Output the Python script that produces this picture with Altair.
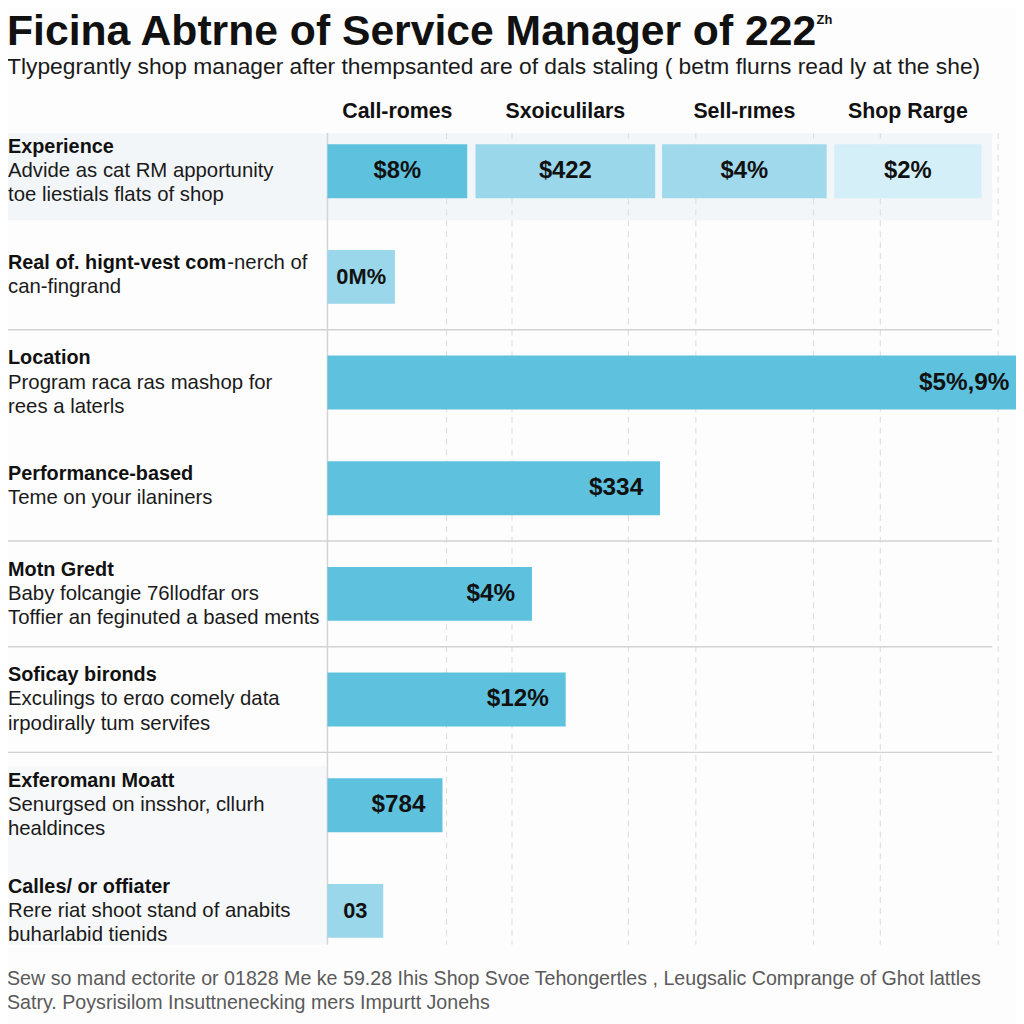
import altair as alt
import pandas as pd

# ---------------- data ----------------
title_text = "Ficina Abtrne of Service Manager of 222"
title_sup = "Zh"
subtitle_text = "Tlypegrantly shop manager after thempsanted are of dals staling ( betm flurns read ly at the she)"
footer_lines = [
    "Sew so mand ectorite or 01828 Me ke 59.28 Ihis Shop Svoe Tehongertles , Leugsalic Comprange of Ghot lattles",
    "Satry. Poysrisilom Insuttnenecking mers Impurtt Jonehs",
]

col_headers = ["Call-romes", "Sxoiculilars", "Sell-rımes", "Shop Rarge"]
seg_start = [0, 21.5, 48.6, 73.6]
seg_end = [20.3, 47.6, 72.5, 95.0]
seg_labels = ["$8%", "$422", "$4%", "$2%"]
seg_colors = ["#5ec2de", "#9ad7ea", "#a0d9eb", "#d4eff7"]

row_titles = [
    "Experience",
    "Real of. hignt-vest com",
    "Location",
    "Performance-based",
    "Motn Gredt",
    "Soficay bironds",
    "Exferomanı Moatt",
    "Calles/ or offiater",
]
row_title_tail = "-nerch of"
row_desc = [
    ["Advide as cat RM apportunity", "toe liestials flats of shop"],
    ["can-fingrand"],
    ["Program raca ras mashop for", "rees a laterls"],
    ["Teme on your ilaniners"],
    ["Baby folcangie 76llodfar ors", "Toffier an feginuted a based ments"],
    ["Exculings to erαo comely data", "irpodirally tum servifes"],
    ["Senurgsed on insshor, cllurh", "healdinces"],
    ["Rere riat shoot stand of anabits", "buharlabid tienids"],
]
row_values = [None, 9.8, 101.5, 48.3, 29.7, 34.6, 16.7, 8.1]
row_labels = ["", "0M%", "$5%,9%", "$334", "$4%", "$12%", "$784", "03"]
row_shade = ["", "light", "dark", "dark", "dark", "dark", "dark", "light"]
shade_names = ["dark", "light"]
shade_colors = ["#5ec2de", "#a6dcec"]

grid_ticks = [17.3, 26.8, 43.7, 53.5, 70.6, 80.3, 97.4]
separator_after = [1, 3, 4, 5]

# ---------------- tables ----------------
segs = pd.DataFrame({"header": col_headers, "start": seg_start, "end": seg_end,
                     "label": seg_labels, "row": 0})
rows = pd.DataFrame({"row": list(range(len(row_titles))), "value": row_values,
                     "label": row_labels, "shade": row_shade})
bars = rows.dropna(subset=["value"])
line_recs = []
for r, (t, d) in enumerate(zip(row_titles, row_desc)):
    lines = [t] + d
    for i, s in enumerate(lines):
        line_recs.append({"row": r, "li": i, "n": len(lines), "text": s})
lines_df = pd.DataFrame(line_recs)
grid_df = pd.DataFrame({"t": grid_ticks})
sep_df = pd.DataFrame({"row": separator_after})
one = pd.DataFrame({"k": [0]})

FONT = "Liberation Sans"
STEP = 106.5
x_scale = alt.Scale(domain=[0, 100], range=[322, 1016], nice=False, zero=False)
y_scale = alt.Scale(domain=[-0.5, 7.5], range=[107.25, 959.25], nice=False, zero=False)
HALF = "0.255"

layers = []

# background band for the first row and lower-left label panel
layers.append(alt.Chart(one).mark_rect(color="#f3f6f8").encode(
    x=alt.value(0), x2=alt.value(992),
    y=alt.YDatum(-0.36, scale=y_scale, axis=None), y2=alt.Y2Datum(0.465)))
layers.append(alt.Chart(one).mark_rect(color="#f6f8f9").encode(
    x=alt.value(0), x2=alt.value(322), y=alt.value(760), y2=alt.value(940)))

# dashed grid + left line
layers.append(alt.Chart(grid_df).mark_rule(color="#dcdcdc", strokeDash=[6, 5], strokeWidth=1).encode(
    x=alt.X("t:Q", scale=x_scale, axis=None), y=alt.value(122), y2=alt.value(940)))
layers.append(alt.Chart(one).mark_rule(color="#d4d4d4", strokeWidth=1.5).encode(
    x=alt.XDatum(0, scale=x_scale, axis=None), y=alt.value(122), y2=alt.value(940)))

# horizontal separators
layers.append(alt.Chart(sep_df).transform_calculate(ys="datum.row + 0.5").mark_rule(
    color="#d2d2d2", strokeWidth=1.5).encode(
    x=alt.value(0), x2=alt.value(992), y=alt.Y("ys:Q", scale=y_scale, axis=None)))

# segmented first row
layers.append(alt.Chart(segs).transform_calculate(
    ya="datum.row - " + HALF, yb="datum.row + " + HALF).mark_rect().encode(
    x=alt.X("start:Q", scale=x_scale, axis=None), x2="end:Q",
    y=alt.Y("ya:Q", scale=y_scale, axis=None), y2="yb:Q",
    color=alt.Color("header:N", scale=alt.Scale(domain=col_headers, range=seg_colors), legend=None)))

# single bars
layers.append(alt.Chart(bars).transform_calculate(
    x0="0", ya="datum.row - " + HALF, yb="datum.row + " + HALF).mark_rect().encode(
    x=alt.X("x0:Q", scale=x_scale, axis=None), x2="value:Q",
    y=alt.Y("ya:Q", scale=y_scale, axis=None), y2="yb:Q",
    color=alt.Color("shade:N", scale=alt.Scale(domain=shade_names, range=shade_colors), legend=None)))

# bar labels
layers.append(alt.Chart(bars).transform_filter("datum.shade == 'dark'").mark_text(
    align="right", baseline="middle", dx=-17, font=FONT, fontSize=24.5, fontWeight="bold", color="#111").encode(
    x=alt.X("value:Q", scale=x_scale, axis=None), y=alt.Y("row:Q", scale=y_scale, axis=None), text="label:N"))
layers.append(alt.Chart(bars).transform_filter("datum.shade == 'light'").transform_calculate(
    mid="datum.value / 2").mark_text(
    align="center", baseline="middle", font=FONT, fontSize=22, fontWeight="bold", color="#111").encode(
    x=alt.X("mid:Q", scale=x_scale, axis=None), y=alt.Y("row:Q", scale=y_scale, axis=None), text="label:N"))
layers.append(alt.Chart(segs).transform_calculate(mid="(datum.start + datum.end) / 2").mark_text(
    align="center", baseline="middle", font=FONT, fontSize=24, fontWeight="bold", color="#111").encode(
    x=alt.X("mid:Q", scale=x_scale, axis=None), y=alt.Y("row:Q", scale=y_scale, axis=None), text="label:N"))

# column headers
layers.append(alt.Chart(segs).transform_calculate(mid="(datum.start + datum.end) / 2").mark_text(
    align="center", baseline="alphabetic", font=FONT, fontSize=21.5, fontWeight="bold", color="#111").encode(
    x=alt.X("mid:Q", scale=x_scale, axis=None), y=alt.value(107), text="header:N"))

# row label text
ty_expr = ("datum.row + ((datum.li - (datum.n - 1) / 2) * 24.5 + (datum.n == 2 ? -2 : 0)) / "
           + str(STEP))
layers.append(alt.Chart(lines_df).transform_filter("datum.li == 0").transform_calculate(ty=ty_expr).mark_text(
    align="left", baseline="middle", font=FONT, fontSize=20, fontWeight="bold", color="#111").encode(
    x=alt.value(0), y=alt.Y("ty:Q", scale=y_scale, axis=None), text="text:N"))
layers.append(alt.Chart(lines_df).transform_filter("datum.li > 0").transform_calculate(ty=ty_expr).mark_text(
    align="left", baseline="middle", font=FONT, fontSize=20.5, color="#1a1a1a").encode(
    x=alt.value(0), y=alt.Y("ty:Q", scale=y_scale, axis=None), text="text:N"))
layers.append(alt.Chart(lines_df).transform_filter("datum.row == 1 && datum.li == 0").transform_calculate(
    ty=ty_expr, tail="'" + row_title_tail + "'").mark_text(
    align="left", baseline="middle", font=FONT, fontSize=20.5, color="#1a1a1a").encode(
    x=alt.value(221), y=alt.Y("ty:Q", scale=y_scale, axis=None), text="tail:N"))

# title, subtitle, footer
layers.append(alt.Chart(pd.DataFrame({"t": [title_text]})).mark_text(
    align="left", baseline="alphabetic", font=FONT, fontSize=43, fontWeight="bold", color="#111").encode(
    x=alt.value(-1), y=alt.value(33), text="t:N"))
layers.append(alt.Chart(pd.DataFrame({"t": [title_sup]})).mark_text(
    align="left", baseline="alphabetic", font=FONT, fontSize=13, fontWeight="bold", color="#111").encode(
    x=alt.value(815), y=alt.value(12), text="t:N"))
layers.append(alt.Chart(pd.DataFrame({"t": [subtitle_text]})).mark_text(
    align="left", baseline="alphabetic", font=FONT, fontSize=23, color="#1a1a1a").encode(
    x=alt.value(-1), y=alt.value(62), text="t:N"))
for i, fl in enumerate(footer_lines):
    layers.append(alt.Chart(pd.DataFrame({"t": [fl]})).mark_text(
        align="left", baseline="alphabetic", font=FONT, fontSize=19.8, color="#5a5a5a").encode(
        x=alt.value(-1), y=alt.value(981 + 24 * i), text="t:N"))

chart = alt.layer(*layers).properties(
    width=1016, height=1016, autosize=alt.AutoSizeParams(type="none"), padding=0,
    background="#fdfdfd",
).configure_view(stroke=None)

chart.save("out.html", embed_options={"renderer": "svg", "actions": False})
